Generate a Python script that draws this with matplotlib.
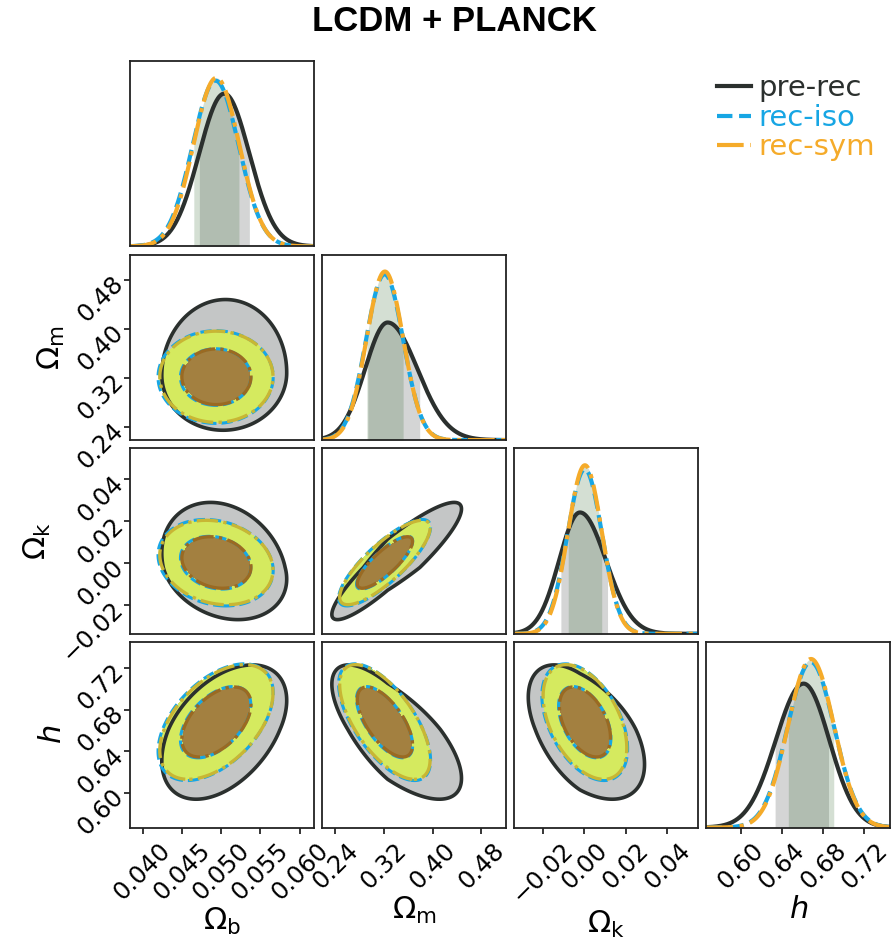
import numpy as np
import matplotlib.pyplot as plt

# parameters, axis ranges and ticks
labels = [r'$\Omega_{\rm b}$', r'$\Omega_{\rm m}$', r'$\Omega_{\rm k}$', r'$h$']
lims = [(0.0384, 0.0618), (0.218, 0.521), (-0.0336, 0.0548), (0.5667, 0.745)]
ticks = [[0.040, 0.045, 0.050, 0.055, 0.060],
         [0.24, 0.32, 0.40, 0.48],
         [-0.02, 0.00, 0.02, 0.04],
         [0.60, 0.64, 0.68, 0.72]]

# peak position and left / right widths of each posterior
pre_peak = [0.0504, 0.326, -0.0020, 0.661]
pre_sig_lo = [0.0032, 0.037, 0.0100, 0.0270]
pre_sig_hi = [0.0032, 0.049, 0.0125, 0.0250]

iso_peak = [0.0493, 0.3210, 0.0003, 0.6680]
iso_sig = [0.00295, 0.0305, 0.0083, 0.0226]

sym_peak = [0.0494, 0.3215, 0.0004, 0.6682]
sym_sig = [0.00290, 0.0300, 0.0081, 0.0222]

# correlation for each (row, col) panel
pairs = [(1, 0), (2, 0), (3, 0), (2, 1), (3, 1), (3, 2)]
pre_rho = [0.02, -0.22, 0.45, 0.90, -0.70, -0.50]
iso_rho = [0.00, -0.18, 0.50, 0.82, -0.65, -0.45]
sym_rho = [0.00, -0.18, 0.50, 0.82, -0.65, -0.45]

c_pre = '#2b302e'
c_iso = '#17a6e4'
c_sym = '#f5ab2a'

chains = {
    'pre': dict(peak=pre_peak, lo=pre_sig_lo, hi=pre_sig_hi, rho=dict(zip(pairs, pre_rho))),
    'iso': dict(peak=iso_peak, lo=iso_sig, hi=iso_sig, rho=dict(zip(pairs, iso_rho))),
    'sym': dict(peak=sym_peak, lo=sym_sig, hi=sym_sig, rho=dict(zip(pairs, sym_rho))),
}


def zval(ch, i, x):
    m = ch['peak'][i]
    return np.where(x < m, (x - m) / ch['lo'][i], (x - m) / ch['hi'][i])


def pdf1d(ch, i, x):
    z = zval(ch, i, x)
    return 2.0 / (np.sqrt(2 * np.pi) * (ch['lo'][i] + ch['hi'][i])) * np.exp(-0.5 * z**2)


def band(x, p):
    c = np.cumsum(p)
    c = c / c[-1]
    return x[np.searchsorted(c, 0.16)], x[np.searchsorted(c, 0.84)]


def chi2(ch, i, j, X, Y):
    r = ch['rho'][(i, j)]
    zx = zval(ch, j, X)
    zy = zval(ch, i, Y)
    return (zx**2 - 2 * r * zx * zy + zy**2) / (1 - r**2)


lv1, lv2 = 2.30, 6.17

fig, axes = plt.subplots(4, 4, figsize=(8.92, 9.41), dpi=100)
fig.subplots_adjust(left=0.1457, right=0.998, bottom=0.1206, top=0.9352,
                    wspace=0.045, hspace=0.045)

for i in range(4):
    for j in range(4):
        ax = axes[i, j]
        if j > i:
            ax.axis('off')
            continue
        for s in ax.spines.values():
            s.set_linewidth(1.3)
            s.set_color('#222222')
        ax.set_xlim(lims[j])
        if i == j:
            x = np.linspace(lims[j][0], lims[j][1], 600)
            p_pre = pdf1d(chains['pre'], j, x)
            p_iso = pdf1d(chains['iso'], j, x)
            p_sym = pdf1d(chains['sym'], j, x)
            a, b = band(x, p_pre)
            msk = (x >= a) & (x <= b)
            ax.fill_between(x[msk], 0, p_pre[msk], color='#7d8282', alpha=0.33, lw=0)
            a, b = band(x, p_sym)
            msk = (x >= a) & (x <= b)
            ax.fill_between(x[msk], 0, p_sym[msk], color='#145210', alpha=0.18, lw=0)
            ax.plot(x, p_pre, color=c_pre, lw=3)
            ax.plot(x, p_iso, color=c_iso, lw=3, ls='--')
            ax.plot(x, p_sym, color=c_sym, lw=3, ls='-.')
            ax.set_ylim(0, 1.1 * max(p_pre.max(), p_iso.max(), p_sym.max()))
            ax.set_yticks([])
        else:
            ax.set_ylim(lims[i])
            gx = np.linspace(lims[j][0], lims[j][1], 400)
            gy = np.linspace(lims[i][0], lims[i][1], 400)
            X, Y = np.meshgrid(gx, gy)
            q = chi2(chains['pre'], i, j, X, Y)
            ax.contourf(X, Y, q, levels=[0, lv2], colors=['#c4c6c6'])
            ax.contour(X, Y, q, levels=[lv2], colors=[c_pre], linewidths=2.6)
            q = chi2(chains['iso'], i, j, X, Y)
            ax.contour(X, Y, q, levels=[lv1, lv2], colors=[c_iso], linewidths=2.2,
                       linestyles='--')
            q = chi2(chains['sym'], i, j, X, Y)
            ax.contourf(X, Y, q, levels=[0, lv1, lv2], colors=['#a38040', '#d5ea5f'])
            ax.contour(X, Y, q, levels=[lv1], colors=['#9a6a22'], linewidths=2.4,
                       linestyles='-.')
            ax.contour(X, Y, q, levels=[lv2], colors=['#c8b634'], linewidths=2.4,
                       linestyles='-.')
        ax.tick_params(direction='out', length=4, width=1.1, labelsize=17.5)
        if i == 3:
            ax.set_xticks(ticks[j])
            ax.tick_params(axis='x', labelrotation=45)
            ax.set_xlabel(labels[j], fontsize=22, labelpad=1)
        else:
            ax.set_xticks([])
        if j == 0 and i > 0:
            ax.set_yticks(ticks[i])
            for t in ax.get_yticklabels():
                t.set_rotation(45)
                t.set_rotation_mode('anchor')
                t.set_ha('right')
                t.set_va('center')
            ax.set_ylabel(labels[i], fontsize=22)
        elif i != j:
            ax.set_yticks([])

handles = [plt.Line2D([], [], color=c_pre, lw=3),
           plt.Line2D([], [], color=c_iso, lw=3, ls='--'),
           plt.Line2D([], [], color=c_sym, lw=3, ls='-.')]
leg = fig.legend(handles, ['pre-rec', 'rec-iso', 'rec-sym'], loc='upper left',
                 bbox_to_anchor=(0.804, 0.921), frameon=False, fontsize=21,
                 handlelength=1.15, handletextpad=0.25, labelspacing=0.05,
                 borderpad=0, borderaxespad=0)
for t, c in zip(leg.get_texts(), [c_pre, c_iso, c_sym]):
    t.set_color(c)

fig.suptitle('LCDM + PLANCK', x=0.509, y=0.977, va='center', fontsize=25,
             fontweight='bold', family=['Liberation Sans', 'DejaVu Sans'])

fig.savefig('out.png', dpi=100)
